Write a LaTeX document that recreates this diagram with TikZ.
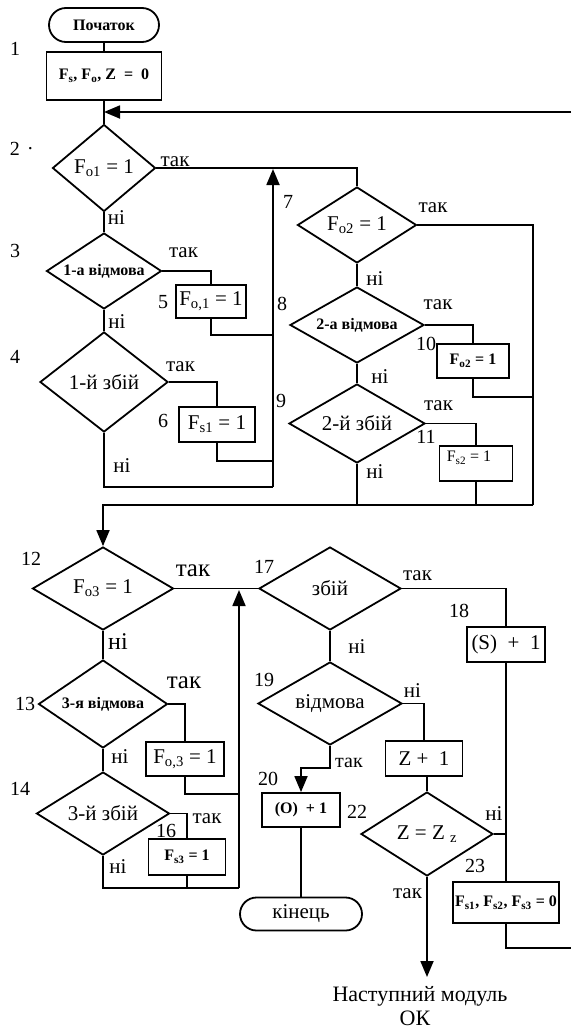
\documentclass[tikz,border=0pt]{standalone}
\usepackage{fontspec}
\setmainfont{Liberation Serif}
\usetikzlibrary{shapes.geometric}
\usetikzlibrary{shapes.misc}
\usetikzlibrary{arrows.meta}

\begin{document}
\begin{tikzpicture}[x=1pt,y=-1pt,line width=1.8pt,
  proc/.style={draw,rectangle,inner sep=0pt,font=\fontsize{21}{24}\selectfont},
  procb/.style={proc,font=\fontsize{16}{18}\selectfont\bfseries},
  cond/.style={draw,diamond,shape aspect=1.6,inner sep=0pt,font=\fontsize{21}{24}\selectfont},
  condb/.style={cond,font=\fontsize{16}{18}\selectfont\bfseries},
  term/.style={draw,rounded rectangle,inner sep=0pt,font=\fontsize{21}{24}\selectfont},
  num/.style={anchor=base,inner sep=0pt,font=\fontsize{20}{20}\selectfont},
  yn/.style={anchor=base,inner sep=0pt,font=\fontsize{21}{21}\selectfont},
  arr/.style={-{Triangle[length=16pt,width=13pt]}}]
\useasboundingbox (0,0) rectangle (571,1028);

% upper part
\node[term,font=\fontsize{16}{18}\selectfont\bfseries,minimum width=110pt,minimum height=34pt] (start) at (104,25) {Початок};
\node[procb,minimum width=115pt,minimum height=48pt] (init) at (104,76) {F\textsubscript{s}, F\textsubscript{o}, Z\ \ =\ \ 0};
\node[cond,minimum width=103pt,minimum height=87pt] (d2) at (104,168) {F\textsubscript{o1} = 1};
\node[condb,minimum width=115pt,minimum height=76pt] (d3) at (104,271) {1-а відмова};
\node[cond,minimum width=128pt,minimum height=100pt] (d4) at (104,382) {1-й збій};
\node[proc,minimum width=70pt,minimum height=33pt] (b5) at (211,301.5) {F\textsubscript{o,1} = 1};
\node[proc,minimum width=76pt,minimum height=35pt] (b6) at (217,424.5) {F\textsubscript{s1} = 1};
\node[cond,minimum width=119pt,minimum height=76pt] (d7) at (357,225) {F\textsubscript{o2} = 1};
\node[condb,minimum width=134pt,minimum height=76pt] (d8) at (357,325) {2-а відмова};
\node[cond,minimum width=136pt,minimum height=79pt] (d9) at (357,423.5) {2-й збій};
\node[procb,minimum width=72pt,minimum height=34pt] (b10) at (473,361) {F\textsubscript{o2} = 1};
\node[proc,font=\fontsize{16}{18}\selectfont,minimum width=73pt,minimum height=35pt] (b11) at (476,463.5) {\hbox{\kern-7pt\raisebox{6pt}[\height][\depth]{F\textsubscript{s2} = 1}\kern7pt}};

% lower part
\node[cond,minimum width=141pt,minimum height=83pt] (d12) at (103,588.5) {F\textsubscript{o3} = 1};
\node[condb,minimum width=129pt,minimum height=88pt] (d13) at (103,704) {3-я відмова};
\node[cond,minimum width=133pt,minimum height=83pt] (d14) at (103,813.5) {3-й збій};
\node[proc,minimum width=78pt,minimum height=34pt] (b15) at (185,759) {F\textsubscript{o,3} = 1};
\node[procb,minimum width=77pt,minimum height=36pt] (b16) at (187,857) {F\textsubscript{s3} = 1};
\node[cond,minimum width=142pt,minimum height=83pt] (d17) at (330,588.5) {збій};
\node[proc,minimum width=78pt,minimum height=35pt] (b18) at (506,644.5) {(S)\ \ +\ \ 1};
\node[cond,minimum width=144pt,minimum height=83pt] (d19) at (330,703.5) {відмова};
\node[procb,minimum width=78pt,minimum height=34pt] (b20) at (301,810) {(O)\ \ + 1};
\node[proc,minimum width=77pt,minimum height=35pt] (b21) at (424,758.5) {Z +\ \ 1};
\node[cond,minimum width=132pt,minimum height=84pt] (d22) at (427,834) {Z = Z \textsubscript{z}};
\node[procb,minimum width=106pt,minimum height=41pt] (b23) at (506,902.5) {F\textsubscript{s1}, F\textsubscript{s2}, F\textsubscript{s3} = 0};
\node[term,minimum width=122pt,minimum height=33pt] (stop) at (301,914) {кінець};

\coordinate (jtop) at (571,112);
\coordinate (jt1) at (273,169);
\coordinate (j5) at (273,335);
\coordinate (j6) at (273,461);
\coordinate (jb1) at (273,487);
\coordinate (j10) at (533,397);
\coordinate (jr2) at (533,505);
\coordinate (jt3) at (239,590);
\coordinate (j15) at (239,794);
\coordinate (jb3) at (239,888);
\coordinate (j19) at (330,768);
\coordinate (jout) at (427,977);
\coordinate (jbot) at (571,948);

\draw (start) -- (init);
\draw (init) -- (d2);
\draw[arr] (jtop) -- (init.south |- jtop);
\draw (d2) -- (d3);
\draw (d3) -- (d4);
\draw (d2.east) -| (d7.north);
\draw (d3.east) -| (b5.north);
\draw (b5.south) |- (j5);
\draw (d4.east) -| (b6.north);
\draw (b6.south) |- (j6);
\draw (d4.south) |- (jb1);
\draw[arr] (jb1) -- (jt1);
\draw (d7) -- (d8);
\draw (d8) -- (d9);
\draw (d7.east) -| (jr2);
\draw (d8.east) -| (b10.north);
\draw (b10.south) |- (j10);
\draw (d9.east) -| (b11.north);
\draw (b11.south) -- (b11.south |- jr2);
\draw (d9.south) |- (jr2);
\draw[arr] (jr2) -| (d12.north);

\draw (d12) -- (d13);
\draw (d13) -- (d14);
\draw (d12.east) -- (d17.west);
\draw (d13.east) -| (b15.north);
\draw (b15.south) |- (j15);
\draw (d14.east) -| (b16.north);
\draw (b16.south) -- (b16.south |- jb3);
\draw (d14.south) |- (jb3);
\draw[arr] (jb3) -- (jt3);
\draw (d17) -- (d19);
\draw (d17.east) -| (b18.north);
\draw (b18) -- (b23);
\draw (d19.east) -| (b21.north);
\draw[arr] (d19.south) -- (j19) -| (b20.north);
\draw (b20) -- (stop);
\draw (d22.north |- b21.south) -- (d22.north);
\draw (d22.east) -- (d22.east -| b23.north);
\draw (b23.south) |- (jbot);
\draw[arr] (d22.south) -- (jout);

% numbers
\node[num] (n1) at (15,55) {1};
\node[num,anchor=base west] (n2) at (9,155) {2\hspace{8pt}\raisebox{6pt}{.}};
\node[num] (n3) at (15,257) {3};
\node[num] (n4) at (15,363) {4};
\node[num] (n5) at (163,308) {5};
\node[num] (n6) at (163,427) {6};
\node[num] (n7) at (288,208) {7};
\node[num] (n8) at (282,310) {8};
\node[num] (n9) at (281,407) {9};
\node[num] (n10) at (426,350) {10};
\node[num] (n11) at (426,443) {11};
\node[num] (n12) at (31,565) {12};
\node[num] (n13) at (25,710) {13};
\node[num] (n14) at (20,795) {14};
\node[num] (n16) at (166,837) {16};
\node[num] (n17) at (264,573) {17};
\node[num] (n18) at (459,617) {18};
\node[num] (n19) at (264,686) {19};
\node[num] (n20) at (268,785) {20};
\node[num] (n22) at (357,818) {22};
\node[num] (n23) at (475,872) {23};

% branch words
\node[yn] (yes2) at (175,166) {так};
\node[yn] (no2) at (116.5,224) {ні};
\node[yn] (yes3) at (183.5,257) {так};
\node[yn] (no3) at (117,328) {ні};
\node[yn] (yes4) at (180.5,371) {так};
\node[yn] (no4) at (122,472) {ні};
\node[yn] (yes7) at (433,212) {так};
\node[yn] (no7) at (375,285) {ні};
\node[yn] (yes8) at (438,309) {так};
\node[yn] (no8) at (380,383) {ні};
\node[yn] (yes9) at (438.5,410) {так};
\node[yn] (no9) at (375,478) {ні};
\node[yn,font=\fontsize{25}{25}\selectfont] (yes12) at (193,576) {так};
\node[yn,font=\fontsize{24}{24}\selectfont] (no12) at (118,649) {ні};
\node[yn,font=\fontsize{25}{25}\selectfont] (yes13) at (184,688) {так};
\node[yn] (no13) at (120,763) {ні};
\node[yn] (yes14) at (207,823) {так};
\node[yn] (no14) at (118,873) {ні};
\node[yn] (yes17) at (417.5,580) {так};
\node[yn] (no17) at (357,653) {ні};
\node[yn] (no19) at (412.5,697) {ні};
\node[yn,font=\fontsize{20}{20}\selectfont] (yes19) at (349,767) {так};
\node[yn] (no22) at (494,820) {ні};
\node[yn] (yes22) at (407.5,898) {так};

\node[yn,font=\fontsize{22}{22}\selectfont] (nxt) at (420,1001) {Наступний модуль};
\node[yn,font=\fontsize{22}{22}\selectfont] (ok) at (415,1025) {ОК};

\end{tikzpicture}
\end{document}
